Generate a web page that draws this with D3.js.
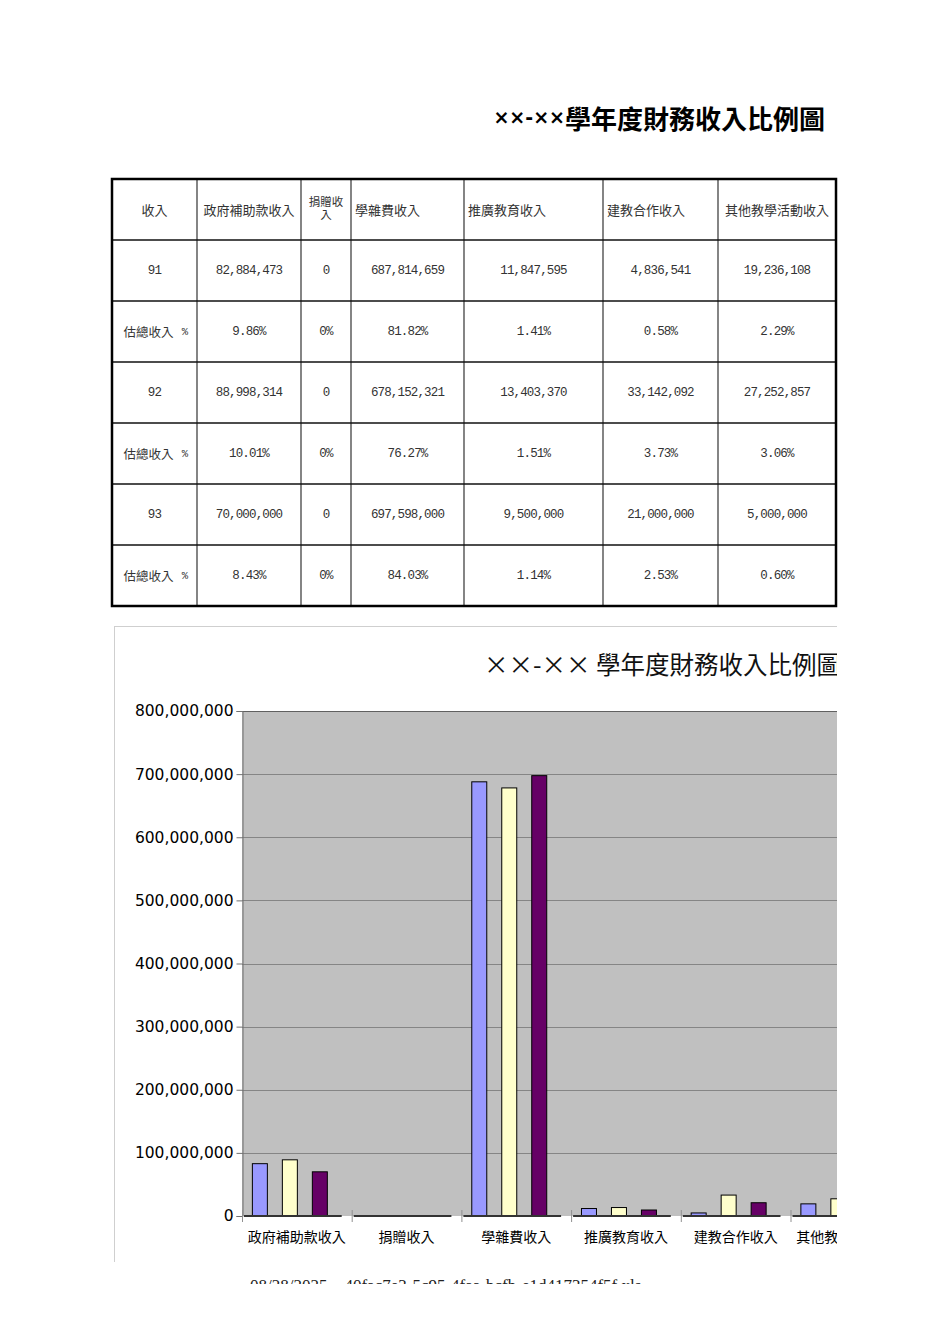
<!DOCTYPE html>
<html>
<head>
<meta charset="utf-8">
<script src="https://cdn.jsdelivr.net/npm/d3@7"></script>
<style>
  body { margin: 0; background: #fff; }
  svg { display: block; }
</style>
</head>
<body>
<svg id="page"></svg>
<script>
// data
const categories = ["政府補助款收入", "捐贈收入", "學雜費收入", "推廣教育收入", "建教合作收入", "其他教學活動收入"];
const years = ["91", "92", "93"];
const values91 = [82884473, 0, 687814659, 11847595, 4836541, 19236108];
const values92 = [88998314, 0, 678152321, 13403370, 33142092, 27252857];
const values93 = [70000000, 0, 697598000, 9500000, 21000000, 5000000];
const pct91 = ["9.86%", "0%", "81.82%", "1.41%", "0.58%", "2.29%"];
const pct92 = ["10.01%", "0%", "76.27%", "1.51%", "3.73%", "3.06%"];
const pct93 = ["8.43%", "0%", "84.03%", "1.14%", "2.53%", "0.60%"];
const yTicks = [0, 100000000, 200000000, 300000000, 400000000, 500000000, 600000000, 700000000, 800000000];
const pctLabel = "估總收入";
const title = "學年度財務收入比例圖";
const footer = "08/28/2025    40fac7e3-5c95-4faa-bcfb-e1d417354f5f.xls";

const seriesColors = ["#9999ff", "#ffffcc", "#660066"];
const W = 950, H = 1344;
const cjk = "'Noto Sans CJK TC', 'Noto Sans CJK SC', sans-serif";
const mono = "'Liberation Mono', 'DejaVu Sans Mono', monospace";

const svg = d3.select("#page").attr("width", W).attr("height", H);

// ---- page title ----
const t1 = svg.append("text")
  .attr("x", 825).attr("y", 117)
  .attr("text-anchor", "end")
  .attr("dominant-baseline", "central")
  .style("font-weight", "bold")
  .style("font-size", "26px")
  .style("font-family", cjk);
t1.append("tspan").style("font-family", "'DejaVu Sans', sans-serif").style("font-size", "19px").text("××-××");
t1.append("tspan").text(title);

// ---- table ----
const colX = [112, 197, 301, 351, 464, 603, 718, 836];
const rowTop = 179, rowH = 61;
const headAnchor = ["middle", "middle", "middle", "start", "start", "start", "middle"];
const fmt = d3.format(",");

const rows = [
  { label: years[0], cells: values91.map(fmt) },
  { label: pctLabel, cells: pct91 },
  { label: years[1], cells: values92.map(fmt) },
  { label: pctLabel, cells: pct92 },
  { label: years[2], cells: values93.map(fmt) },
  { label: pctLabel, cells: pct93 }
];
const nRows = rows.length + 1;
const tBottom = rowTop + nRows * rowH;

const table = svg.append("g")
  .style("font-family", mono).style("font-size", "12.5px").style("letter-spacing", "-0.85px")
  .attr("fill", "#333");

// grid
for (let i = 1; i < colX.length - 1; i++) {
  table.append("line")
    .attr("x1", colX[i]).attr("x2", colX[i])
    .attr("y1", rowTop).attr("y2", tBottom)
    .attr("stroke", "#333").attr("stroke-width", 1.2);
}
for (let r = 1; r < nRows; r++) {
  table.append("line")
    .attr("x1", colX[0]).attr("x2", colX[colX.length - 1])
    .attr("y1", rowTop + r * rowH).attr("y2", rowTop + r * rowH)
    .attr("stroke", "#111").attr("stroke-width", 1.5);
}
table.append("rect")
  .attr("x", colX[0]).attr("y", rowTop)
  .attr("width", colX[colX.length - 1] - colX[0]).attr("height", nRows * rowH)
  .attr("fill", "none").attr("stroke", "#000").attr("stroke-width", 2.5);

// header
const header = ["收入"].concat(categories);
header.forEach((h, i) => {
  const a = headAnchor[i];
  const x = a === "start" ? colX[i] + 4 : (colX[i] + colX[i + 1]) / 2;
  const cy = rowTop + rowH / 2;
  if (h === "捐贈收入") {
    // narrow column: wraps onto two lines
    table.append("text").attr("x", x).attr("y", cy - 4).attr("text-anchor", "middle")
      .style("font-family", cjk).style("font-size", "11.5px").style("letter-spacing", "0px")
      .text("捐贈收");
    table.append("text").attr("x", x).attr("y", cy + 9).attr("text-anchor", "middle")
      .style("font-family", cjk).style("font-size", "11.5px").style("letter-spacing", "0px")
      .text("入");
  } else {
    table.append("text").attr("x", x).attr("y", cy).attr("text-anchor", a)
      .attr("dominant-baseline", "central")
      .style("font-family", cjk).style("font-size", "13px").style("letter-spacing", "0px")
      .text(h);
  }
});

rows.forEach((row, r) => {
  const cy = rowTop + (r + 1) * rowH + rowH / 2;
  [row.label].concat(row.cells).forEach((c, i) => {
    const cx = (colX[i] + colX[i + 1]) / 2;
    if (i === 0 && c === pctLabel) {
      table.append("text")
        .attr("x", cx - 6).attr("y", cy)
        .attr("text-anchor", "middle").attr("dominant-baseline", "central")
        .style("font-family", cjk).style("font-size", "12.5px").style("letter-spacing", "0px")
        .text(c);
      table.append("text")
        .attr("x", cx + 30).attr("y", cy)
        .attr("text-anchor", "middle").attr("dominant-baseline", "central")
        .style("font-size", "10.5px")
        .text("%");
    } else {
      table.append("text")
        .attr("x", cx).attr("y", cy)
        .attr("text-anchor", "middle").attr("dominant-baseline", "central")
        .text(c);
    }
  });
});

// ---- chart ----
const chartClip = svg.append("defs").append("clipPath").attr("id", "chartClip");
chartClip.append("rect").attr("x", 114).attr("y", 626).attr("width", 837 - 114).attr("height", 1262 - 626);

const chart = svg.append("g").attr("clip-path", "url(#chartClip)");

chart.append("line").attr("x1", 114).attr("x2", 837).attr("y1", 626.5).attr("y2", 626.5)
  .attr("stroke", "#cfcfcf");
chart.append("line").attr("x1", 114.5).attr("x2", 114.5).attr("y1", 626).attr("y2", 1262)
  .attr("stroke", "#cfcfcf");

chart.append("text")
  .attr("x", 484).attr("y", 663)
  .attr("dominant-baseline", "central")
  .style("font-size", "24.5px")
  .style("font-family", cjk)
  .attr("fill", "#111")
  .text("××-×× " + title);

const plotL = 242, plotT = 711, plotB = 1216, bandW = 109.7;
const x = d3.scaleBand().domain(categories).range([plotL, plotL + bandW * categories.length]).padding(0);
const y = d3.scaleLinear().domain([0, 800000000]).range([plotB, plotT]);
const x1 = d3.scaleBand().domain(years)
  .range([x.bandwidth() * 0.09, x.bandwidth() * 0.91])
  .paddingInner(0.5).paddingOuter(0.25).align(0);

chart.append("rect")
  .attr("x", plotL).attr("y", plotT)
  .attr("width", x.range()[1] - plotL).attr("height", plotB - plotT)
  .attr("fill", "#c0c0c0");

// grid lines
chart.append("g").selectAll("line").data(yTicks.slice(1)).join("line")
  .attr("x1", plotL).attr("x2", x.range()[1])
  .attr("y1", (d) => Math.round(y(d)) + 0.5).attr("y2", (d) => Math.round(y(d)) + 0.5)
  .attr("stroke", (d) => (d === 800000000 ? "#606060" : "#858585"))
  .attr("stroke-width", 1);

// y axis
const yAxis = chart.append("g")
  .attr("transform", `translate(${plotL + 0.5},0)`)
  .call(d3.axisLeft(y).tickValues(yTicks).tickFormat(d3.format(",")).tickSize(6).tickPadding(3));
yAxis.select(".domain").attr("stroke", "#707070");
yAxis.selectAll(".tick line").attr("stroke", "#707070");
yAxis.selectAll("text")
  .style("font-family", "'DejaVu Sans', sans-serif")
  .style("font-size", "15.5px")
  .attr("fill", "#000");

// bars
const seriesVals = [values91, values92, values93];
const groups = chart.append("g").selectAll("g").data(categories).join("g")
  .attr("transform", (d) => `translate(${x(d)},0)`);
groups.selectAll("rect")
  .data((d, i) => years.map((yr, s) => ({ yr, s, v: seriesVals[s][i] })))
  .join("rect")
  .filter((d) => d.v > 0)
  .attr("x", (d) => x1(d.yr) + 0.5)
  .attr("y", (d) => y(d.v))
  .attr("width", x1.bandwidth())
  .attr("height", (d) => plotB - y(d.v))
  .attr("fill", (d) => seriesColors[d.s])
  .attr("stroke", "#000")
  .attr("stroke-width", 1);

// x axis baseline segments + ticks
groups.append("line")
  .attr("x1", 2).attr("x2", x.bandwidth() - 10)
  .attr("y1", plotB).attr("y2", plotB)
  .attr("stroke", "#333").attr("stroke-width", 2);
chart.append("g").selectAll("line").data(categories).join("line")
  .attr("x1", (d) => x(d) + 0.5).attr("x2", (d) => x(d) + 0.5)
  .attr("y1", plotB - 6).attr("y2", plotB + 6)
  .attr("stroke", "#909090");

chart.append("g").selectAll("text").data(categories).join("text")
  .attr("x", (d, i) => x(d) + x.bandwidth() / 2 + (i === categories.length - 1 ? 7 : 0))
  .attr("y", plotB + 20)
  .attr("text-anchor", "middle")
  .attr("dominant-baseline", "central")
  .style("font-family", cjk)
  .style("font-size", "14px")
  .attr("fill", "#000")
  .text((d) => d);

// ---- footer (cut off at page edge) ----
const footClip = svg.select("defs").append("clipPath").attr("id", "footClip");
footClip.append("rect").attr("x", 0).attr("y", 0).attr("width", W).attr("height", 1284);
svg.append("text")
  .attr("clip-path", "url(#footClip)")
  .attr("x", 250).attr("y", 1291)
  .style("font-family", "'Liberation Serif', serif")
  .style("font-size", "17px")
  .style("white-space", "pre")
  .attr("fill", "#222")
  .text(footer);
</script>
</body>
</html>
